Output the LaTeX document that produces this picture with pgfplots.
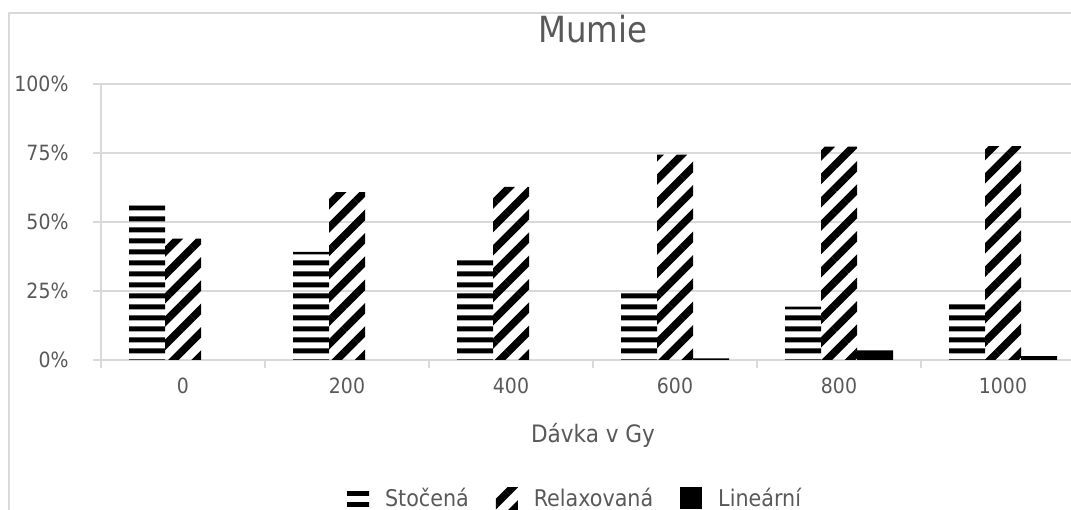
\documentclass[border=0pt]{standalone}
\usepackage{fontspec}
\setmainfont{DejaVu Sans Condensed}
\usepackage{pgfplots}
\pgfplotsset{compat=1.18}
\usetikzlibrary{patterns,patterns.meta}
\definecolor{txt}{HTML}{595959}
\definecolor{grd}{HTML}{D9D9D9}
% wide tile so the horizontal stripes have no seams
\pgfdeclarepatternformonly{hstripes}{\pgfqpoint{0bp}{0bp}}{\pgfqpoint{2400bp}{11bp}}{\pgfqpoint{2400bp}{11bp}}{%
  \pgfpathrectangle{\pgfqpoint{0bp}{2.75bp}}{\pgfqpoint{2400bp}{5.5bp}}\pgfusepath{fill}}
\pgfplotsset{sqleg/.style={legend image code/.code={\fill[##1] (0bp,-11bp) rectangle (22bp,11bp);}}}

\begin{document}
\begin{tikzpicture}
\path[use as bounding box] (0,0) rectangle (1071bp,510bp);
\clip (0,0) rectangle (1071bp,510bp);
\draw[grd, line width=1.5bp] (9bp,-20bp) -- (9bp,497bp) -- (1100bp,497bp);
\begin{axis}[
  at={(101bp,150bp)}, anchor=south west,
  scale only axis, width=984bp, height=276bp,
  xmin=-0.5, xmax=5.5, ymin=0, ymax=100,
  ybar=0pt, bar width=36bp,
  axis lines*=left,
  axis line style={grd, line width=1.5bp},
  xtick={-0.5,0.5,...,5.5}, xticklabels={,,,,,,},
  extra x ticks={0,1,2,3,4,5},
  extra x tick labels={0,200,400,600,800,1000},
  extra x tick style={major tick length=0pt},
  ytick={0,25,50,75,100}, yticklabels={0\%,25\%,50\%,75\%,100\%},
  major tick length=8bp,
  tick style={grd, line width=1.5bp},
  tick align=outside,
  ymajorgrids, grid style={grd, line width=1.5bp},
  ticklabel style={font=\fontsize{21bp}{24bp}\selectfont, text=txt},
  xticklabel shift=14bp,
  yticklabel shift=21bp,
  xlabel={Dávka v Gy},
  xlabel style={at={(axis description cs:0.5,0)}, anchor=base, yshift=-82bp,
    font=\fontsize{24bp}{28bp}\selectfont, text=txt},
  title={Mumie},
  title style={at={(axis description cs:0.5,1)}, anchor=base, yshift=36bp,
    font=\fontsize{36bp}{40bp}\selectfont, text=txt},
  legend columns=-1,
  legend style={at={(0.4807,-0.5)}, anchor=center, draw=none, fill=none,
    font=\fontsize{23bp}{26bp}\selectfont, text=txt,
    nodes={inner sep=0pt},
    /tikz/every odd column/.append style={column sep=16bp},
    /tikz/every even column/.append style={column sep=27bp}},
]
\addplot[draw=none, pattern=hstripes, pattern color=black, sqleg]
  coordinates {(0,56) (1,39.2) (2,37.3) (3,25) (4,19.3) (5,21.1)};
\addlegendentry{Stočená}
\addplot[draw=none, pattern={Lines[angle=45,distance=16.5bp,line width=7.5bp]}, pattern color=black, sqleg]
  coordinates {(0,44) (1,60.8) (2,62.7) (3,74.4) (4,77.3) (5,77.5)};
\addlegendentry{Relaxovaná}
\addplot[draw=none, fill=black, sqleg]
  coordinates {(0,0) (1,0) (2,0) (3,0.6) (4,3.5) (5,1.4)};
\addlegendentry{Lineární}
\end{axis}
\end{tikzpicture}
\end{document}
